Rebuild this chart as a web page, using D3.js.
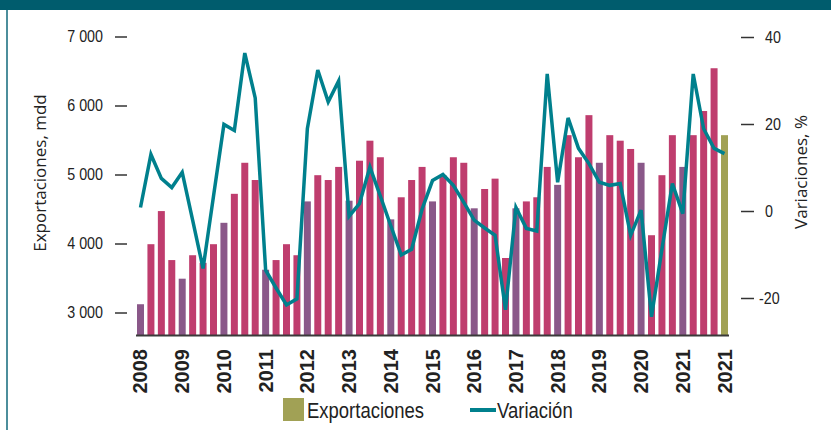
<!DOCTYPE html>
<html>
<head>
<meta charset="utf-8">
<script src="https://cdn.jsdelivr.net/npm/d3@7"></script>
<style>
  body { margin: 0; background: #fff; }
  .narrow { font-family: "Liberation Sans", Arial, sans-serif; }
</style>
</head>
<body>
<svg id="chart"></svg>
<script>
// exportaciones trimestrales, mdd (2008 T1 ... 2021 T4, y total 2021)
var exportaciones = [3120, 3990, 4470, 3760, 3490, 3830, 3720, 3990, 4300, 4720, 5170, 4920,
  3620, 3760, 3990, 3830, 4610, 4990, 4920, 5110, 4620, 5200, 5490, 5250,
  4350, 4670, 4920, 5110, 4610, 4990, 5250, 5170, 4510, 4790, 4940, 3790,
  4510, 4610, 4670, 5110, 4850, 5570, 5250, 5860, 5170, 5570, 5490, 5370,
  5170, 4120, 4990, 5570, 5110, 5570, 5920, 6540, 5570]
// variacion anual, %
var variacion = [0.8, 13.0, 7.5, 5.4, 8.9, -2.1, -13.2, 3.4, 19.9, 18.5, 36.3, 26.0,
  -13.6, -17.7, -21.6, -20.2, 18.9, 32.4, 25.1, 29.9, -1.2, 1.7, 10.1, 3.4,
  -3.4, -10.1, -8.8, 0.4, 7.0, 8.4, 5.9, 2.0, -2.1, -3.9, -5.6, -22.7,
  0.8, -4.0, -4.6, 31.5, 6.6, 21.4, 14.4, 10.9, 6.6, 5.9, 6.3, -5.6,
  0.2, -24.3, -8.8, 6.3, -0.6, 31.5, 18.9, 14.4, 13.2]
var anios = ['2008', '2009', '2010', '2011', '2012', '2013', '2014', '2015',
  '2016', '2017', '2018', '2019', '2020', '2021', '2021']
var ticksIzq = [3000, 4000, 5000, 6000, 7000]
var ticksDer = [-20, 0, 20, 40]

var width = 831
var height = 430
var svg = d3.select('#chart').attr('width', width).attr('height', height)

// texto estrecho (no hay Arial Narrow instalada)
var estrechar = function (sel, f) {
  sel.each(function () {
    var w = this.getComputedTextLength()
    d3.select(this).attr('textLength', w * f).attr('lengthAdjust', 'spacingAndGlyphs')
  })
}

// marco
svg.append('rect').attr('x', 0).attr('y', 0).attr('width', width).attr('height', 10).attr('fill', '#005c6d')
svg.append('line').attr('x1', 7).attr('x2', 7).attr('y1', 10).attr('y2', height)
  .attr('stroke', '#4c8e9c').attr('stroke-width', 2)

var baseY = 335
var idx = d3.range(exportaciones.length)
var x = d3.scaleBand().domain(idx).range([137, 728]).paddingInner(0.33)
var y = d3.scaleLinear().domain([2674, 7000]).range([baseY, 36.5])
var y2 = d3.scaleLinear().domain([-20, 40]).range([298, 37])

var colorBarra = function (i) {
  if (i === exportaciones.length - 1) return '#a1a155'
  return i % 4 === 0 ? '#8a5889' : '#bf3d6e'
}

// barras
svg.selectAll('rect.bar').data(exportaciones).enter().append('rect')
  .attr('class', 'bar')
  .attr('x', function (d, i) { return x(i) })
  .attr('y', function (d) { return y(d) })
  .attr('width', x.bandwidth())
  .attr('height', function (d) { return baseY - y(d) })
  .attr('fill', function (d, i) { return colorBarra(i) })

// linea base
svg.append('line').attr('x1', 136).attr('x2', 729).attr('y1', baseY + 0.5).attr('y2', baseY + 0.5)
  .attr('stroke', '#3a3a3a').attr('stroke-width', 2)

// linea de variacion
var linea = d3.line()
  .x(function (d, i) { return x(i) + x.bandwidth() / 2 })
  .y(function (d) { return y2(d) })
svg.append('path').datum(variacion)
  .attr('d', linea)
  .attr('fill', 'none')
  .attr('stroke', '#00808d')
  .attr('stroke-width', 3.5)
  .attr('stroke-linejoin', 'miter')

// ejes
var fmt = function (d) { return d3.format(',')(d).replace(',', ' ') }
var ejeIzq = svg.append('g').attr('transform', 'translate(127,0)')
  .call(d3.axisLeft(y).tickValues(ticksIzq).tickFormat(fmt).tickSize(12).tickPadding(12))
var ejeDer = svg.append('g').attr('transform', 'translate(741,0)')
  .call(d3.axisRight(y2).tickValues(ticksDer).tickFormat(function (d) { return String(d) })
    .tickSize(13).tickPadding(11))
;[ejeIzq, ejeDer].forEach(function (g) {
  g.select('.domain').remove()
  g.selectAll('.tick line').attr('stroke', '#333').attr('stroke-width', 1.5)
  g.selectAll('.tick text').attr('class', 'narrow').attr('font-size', 17).attr('fill', '#222')
    .attr('font-family', null)
  estrechar(g.selectAll('.tick text'), 0.84)
})
ejeDer.selectAll('.tick text').attr('dx', function (d) { return d < 0 ? -6 : 0 })

// etiquetas de anio
var posAnio = anios.map(function (a, k) { return Math.min(k * 4, exportaciones.length - 1) })
svg.selectAll('text.anio').data(anios).enter().append('text')
  .attr('class', 'anio')
  .attr('transform', function (d, k) {
    var cx = x(posAnio[k]) + x.bandwidth() / 2
    return 'translate(' + (cx + 7) + ',349) rotate(-90)'
  })
  .attr('text-anchor', 'end')
  .attr('font-family', '"Liberation Sans", Arial, sans-serif')
  .attr('font-weight', 'bold')
  .attr('font-size', 20)
  .attr('fill', '#222')
  .text(function (d) { return d })

// titulos de ejes
svg.append('text')
  .attr('transform', 'translate(46,173) rotate(-90)')
  .attr('text-anchor', 'middle')
  .attr('font-family', '"Open Sans", sans-serif')
  .attr('font-size', 17)
  .attr('fill', '#222')
  .text('Exportaciones, mdd')
svg.append('text')
  .attr('transform', 'translate(807,172) rotate(-90)')
  .attr('text-anchor', 'middle')
  .attr('font-family', '"Open Sans", sans-serif')
  .attr('font-size', 17)
  .attr('fill', '#222')
  .text('Variaciones, %')

// leyenda
var ley = svg.append('g')
ley.append('rect').attr('x', 283).attr('y', 398).attr('width', 21).attr('height', 23).attr('fill', '#a1a155')
ley.append('text').attr('class', 'narrow').attr('x', 307).attr('y', 418)
  .attr('font-size', 22).attr('fill', '#222').text('Exportaciones')
ley.append('line').attr('x1', 470).attr('x2', 496).attr('y1', 410).attr('y2', 410)
  .attr('stroke', '#00808d').attr('stroke-width', 4)
ley.append('text').attr('class', 'narrow').attr('x', 497).attr('y', 418)
  .attr('font-size', 22).attr('fill', '#222').text('Variación')
estrechar(ley.selectAll('text'), 0.84)
</script>
</body>
</html>
